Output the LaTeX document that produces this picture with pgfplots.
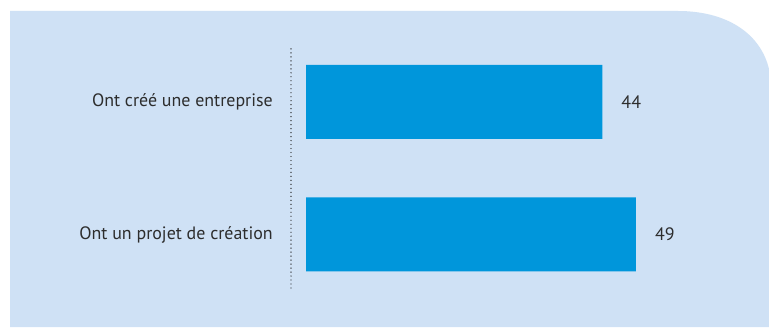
\documentclass[border=0pt]{standalone}
\usepackage{pgfplots}
\pgfplotsset{compat=1.18}
\usepackage{fontspec}
\setmainfont{PT Sans}
\definecolor{bg}{RGB}{207,225,245}
\definecolor{barc}{RGB}{0,150,219}
\definecolor{txt}{RGB}{45,45,45}
\begin{document}
\begin{tikzpicture}[x=1bp,y=1bp]
\path[fill=white] (0,0) rectangle (769,327);
\fill[bg] (10,0) -- (10,316) -- (678,316) .. controls (725,316) and (760,295) .. (769,258) -- (769,0) -- cycle;
\begin{axis}[
  at={(291bp,39bp)}, anchor=south west,
  scale only axis, width=419bp, height=241bp,
  xmin=-2.23, xmax=60, ymin=0.596, ymax=2.415,
  xbar, bar width=74bp, bar shift=0pt,
  axis x line=none, axis y line=left,
  y axis line style={-, draw=black!85, line width=1.4pt, dash pattern=on 0pt off 4pt, line cap=round},
  ytick={1,2}, yticklabels={Ont un projet de création, Ont créé une entreprise},
  major tick length=0pt,
  yticklabel style={anchor=east, inner sep=0pt, xshift=-18bp, font=\fontsize{18}{21}\selectfont, text=txt},
  /pgf/number format/assume math mode=true,
  nodes near coords,
  every node near coord/.style={anchor=west, inner sep=0pt, xshift=19bp, font=\fontsize{18}{21}\selectfont, text=txt},
  point meta=x,
  clip=false,
]
\addplot[fill=barc, draw=none] coordinates {(49,1) (44,2)};
\end{axis}
\end{tikzpicture}
\end{document}
